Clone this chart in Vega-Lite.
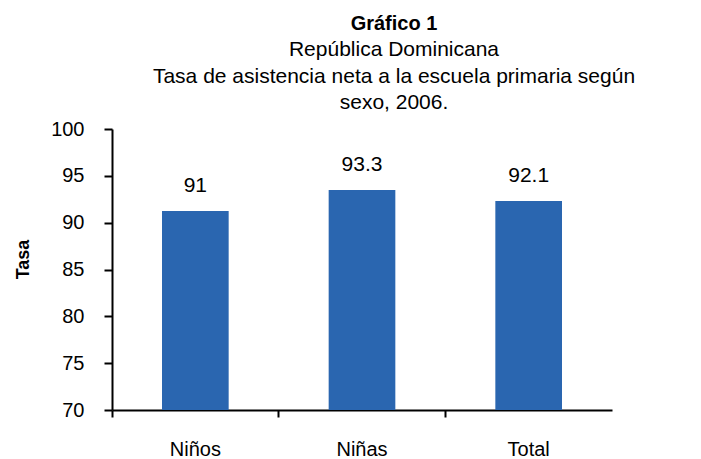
{
  "$schema": "https://vega.github.io/schema/vega-lite/v6.json",
  "width": 500,
  "height": 281,
  "autosize": "none",
  "padding": {"left": 112, "top": 129, "right": 89, "bottom": 49},
  "background": "white",
  "title": {
    "text": "Gráfico 1",
    "subtitle": ["República Dominicana", "Tasa de asistencia neta a la escuela primaria según", "sexo, 2006."],
    "anchor": "middle",
    "dx": 32,
    "font": "Liberation Sans",
    "fontSize": 20,
    "fontWeight": "bold",
    "color": "black",
    "subtitleFont": "Liberation Sans",
    "subtitleFontSize": 21,
    "subtitleColor": "black",
    "subtitleLineHeight": 26.5,
    "subtitlePadding": 5,
    "offset": 6
  },
  "data": {
    "values": [
      {"sexo": "Niños", "tasa": 91.25, "etiqueta": "91"},
      {"sexo": "Niñas", "tasa": 93.5, "etiqueta": "93.3"},
      {"sexo": "Total", "tasa": 92.3, "etiqueta": "92.1"}
    ]
  },
  "encoding": {
    "x": {
      "field": "sexo",
      "type": "nominal",
      "sort": null,
      "scale": {"paddingInner": 0.6, "paddingOuter": 0.3},
      "axis": {
        "title": null,
        "labelAngle": 0,
        "labelFont": "Liberation Sans",
        "labelFontSize": 20,
        "labelColor": "black",
        "labelPadding": 22,
        "domainColor": "black",
        "domainWidth": 2,
        "tickColor": "black",
        "tickWidth": 2,
        "tickSize": 7,
        "bandPosition": -0.75
      }
    },
    "y": {
      "field": "tasa",
      "type": "quantitative",
      "scale": {"domain": [70, 100], "nice": false, "zero": false},
      "axis": {
        "title": "Tasa",
        "titleFont": "Liberation Sans",
        "titleFontSize": 18,
        "titleFontWeight": "bold",
        "titleColor": "black",
        "titlePadding": 18,
        "titleY": 130,
        "values": [70, 75, 80, 85, 90, 95, 100],
        "labelFont": "Liberation Sans",
        "labelFontSize": 20,
        "labelColor": "black",
        "labelPadding": 20,
        "grid": false,
        "domainColor": "black",
        "domainWidth": 2,
        "tickColor": "black",
        "tickWidth": 2,
        "tickSize": 8
      }
    }
  },
  "layer": [
    {
      "mark": {"type": "bar", "color": "#2A66B0"},
      "encoding": {"y2": {"datum": 70}}
    },
    {
      "mark": {"type": "text", "dy": -19, "baseline": "alphabetic", "font": "Liberation Sans", "fontSize": 21, "color": "black"},
      "encoding": {"text": {"field": "etiqueta"}}
    }
  ],
  "config": {"view": {"stroke": null}}
}
